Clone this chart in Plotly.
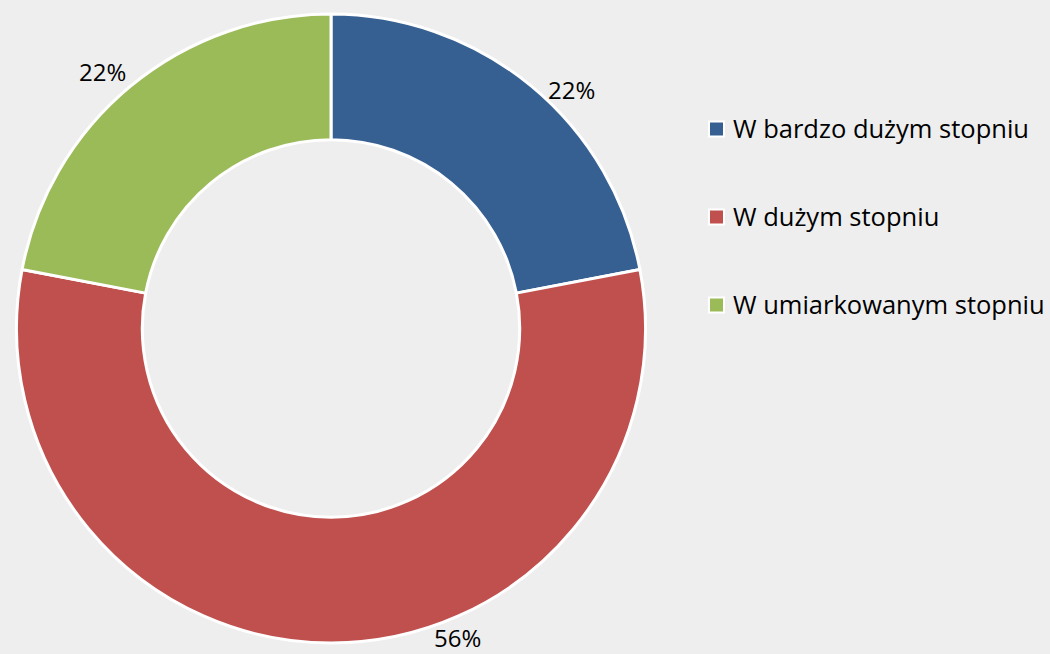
import plotly.graph_objects as go

categories = ["W bardzo dużym stopniu", "W dużym stopniu", "W umiarkowanym stopniu"]
values = [22, 56, 22]
colors = ["#376092", "#C0504D", "#9BBB59"]

W, H = 1050, 654
cx, cy, R = 331, 328.5, 314.5
FONT = "Open Sans, Lato, sans-serif"

fig = go.Figure()
fig.add_trace(go.Pie(
    labels=categories, values=values, hole=0.6, sort=False,
    direction="clockwise", rotation=0,
    marker=dict(colors=colors, line=dict(color="white", width=3)),
    textinfo="none", hoverinfo="label+percent", showlegend=False,
    domain=dict(x=[(cx - R) / W, (cx + R) / W], y=[(H - cy - R) / H, (H - cy + R) / H]),
))

# percentage labels (positions as in reference)
label_pos = [(571, 89), (457, 637), (102, 71)]
for v, (x, y) in zip(values, label_pos):
    fig.add_annotation(x=x / W, y=1 - y / H, xref="paper", yref="paper",
                       text=f"{v}%", showarrow=False, borderpad=0,
                       font=dict(family=FONT, size=24, color="#000000"),
                       xanchor="center", yanchor="middle")

# legend drawn manually
leg_y = [129, 217, 305]
for cat, col, y in zip(categories, colors, leg_y):
    fig.add_shape(type="rect", xref="paper", yref="paper",
                  x0=709 / W, x1=724 / W, y0=1 - (y - 7.5) / H, y1=1 - (y + 7.5) / H,
                  fillcolor=col, line=dict(color="white", width=2))
    fig.add_annotation(x=731 / W, y=1 - (y - 1) / H, xref="paper", yref="paper",
                       text=cat, showarrow=False,
                       font=dict(family=FONT, size=25.5, color="#000000"),
                       xanchor="left", yanchor="middle")

fig.update_layout(
    width=W, height=H,
    margin=dict(l=0, r=0, t=0, b=0),
    paper_bgcolor="#EEEEEE", plot_bgcolor="#EEEEEE",
)

fig.write_html("out.html", config={"displayModeBar": False},
               post_script="document.body.style.margin='0';document.body.style.padding='0';"
                           "document.body.style.overflow='hidden';")
